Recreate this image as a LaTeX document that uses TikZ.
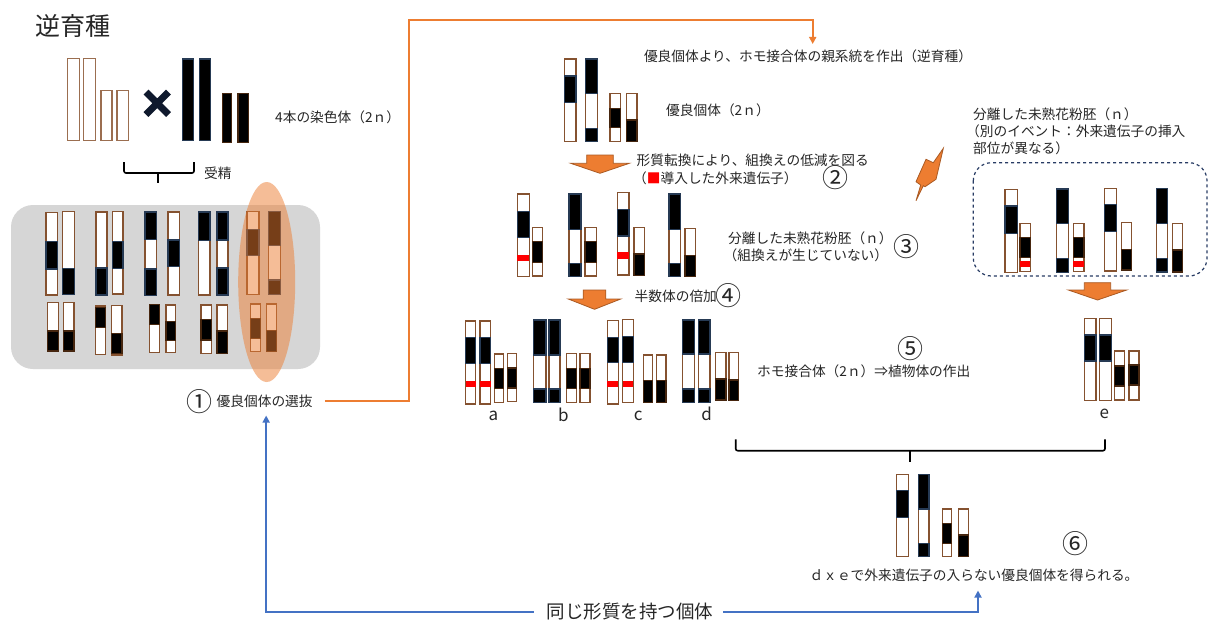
\documentclass[tikz,border=0pt]{standalone}
\usepackage{fontspec}
\setmainfont{Noto Sans CJK JP}
\usetikzlibrary{arrows.meta}

\definecolor{brn}{RGB}{133,82,48}
\definecolor{brnl}{RGB}{155,110,80}
\definecolor{nav}{RGB}{38,58,84}
\definecolor{bdk}{RGB}{70,38,15}
\definecolor{org}{RGB}{237,125,49}
\definecolor{orgd}{RGB}{170,90,35}
\definecolor{blu}{RGB}{68,114,196}
\definecolor{gry}{RGB}{214,214,214}
\definecolor{dsh}{RGB}{40,60,100}
\definecolor{txc}{RGB}{38,38,38}
\definecolor{crossc}{RGB}{15,25,45}

% chromosome frame, black band (navy rim), black band (brown rim), red insert
\newcommand\chrm[4]{\filldraw[fill=white,draw=brn,line width=1.3pt] (#1,#2) rectangle (#3,#4);}
\newcommand\chrl[4]{\filldraw[fill=white,draw=brnl,line width=1.3pt] (#1,#2) rectangle (#3,#4);}
\newcommand\blkn[4]{\filldraw[fill=black,draw=nav,line width=1.3pt] (#1,#2) rectangle (#3,#4);}
\newcommand\blkb[4]{\filldraw[fill=black,draw=bdk,line width=1.3pt] (#1,#2) rectangle (#3,#4);}
\newcommand\redb[4]{\fill[red] (#1,#2) rectangle (#3,#4);}
% downward block arrow: centre x, head half width, shaft half width, top, head start, tip
\newcommand\blockarrow[6]{\filldraw[fill=org,draw=orgd,line width=0.8pt]
  (#1-#3,#4) -- (#1+#3,#4) -- (#1+#3,#5) -- (#1+#2,#5) -- (#1,#6) -- (#1-#2,#5) -- (#1-#3,#5) -- cycle;}

\tikzset{
  txt/.style={font=\fontsize{13.7}{16}\selectfont, text=txc, inner sep=1pt},
  circnum/.style={font=\fontsize{26}{28}\selectfont, text=txc, inner sep=0pt},
  lbl/.style={font=\fontsize{17}{20}\selectfont, text=txc, inner sep=1pt},
  oline/.style={draw=org, line width=1.8pt, -{Triangle[length=7pt,width=7pt]}},
  bline/.style={draw=blu, line width=1.8pt, -{Triangle[length=7pt,width=7pt]}},
  bracec/.style={draw=black, line width=1.6pt, rounded corners=2pt},
}

\begin{document}
\begin{tikzpicture}[x=1pt,y=-1pt]
\useasboundingbox (0,0) rectangle (1209,622);
\fill[white] (0,0) rectangle (1209,622);

% ---------- title and parents ----------
\node[font=\fontsize{25}{28}\selectfont, text=txc, inner sep=0pt] (title) at (73,26) {逆育種};

\chrl{67.7}{58.3}{79.3}{140.7}
\chrl{83.7}{58.3}{95.7}{140.7}
\chrl{101}{90.3}{112}{140.7}
\chrl{117}{90.3}{128.3}{140.7}
\draw[line width=7pt, draw=crossc] (146,92) -- (168.5,114.5) (168.5,92) -- (146,114.5);
\blkn{182.3}{59}{193.3}{140.7}
\blkn{199.3}{59}{210.7}{140.7}
\chrm{222.3}{93.7}{231.7}{142.3}\blkb{222.3}{93.7}{231.7}{142.3}
\chrm{238}{93.7}{248.3}{142.3}\blkb{238}{93.7}{248.3}{142.3}

\node[txt, anchor=west] (chr4) at (274,117) {4本の染色体（2ｎ）};

\draw[bracec] (124,162) -- (124,173) -- (194,173) -- (194,162);
\draw[bracec] (158,173) -- (158,183);
\node[txt, anchor=west] (fert) at (203,173) {受精};

% ---------- F1 population ----------
\fill[gry, rounded corners=22pt] (11,205) rectangle (320,369);

\chrm{46}{212.3}{57.3}{295}\blkn{46}{241.7}{57.3}{269}
\chrm{62.7}{211.3}{74.3}{294.3}\blkn{62.7}{268.3}{74.3}{294.3}
\chrm{96}{212}{107}{295}\blkn{96}{268}{107}{295}
\chrm{112.3}{211.3}{123}{294}\blkn{112.3}{241.7}{123}{268.3}
\chrm{145}{212}{156.7}{295.7}\blkn{145}{212}{156.7}{239.3}\blkn{145}{269}{156.7}{295.7}
\chrm{168}{212}{179.7}{295}\blkn{168}{240}{179.7}{266.7}
\chrm{198.7}{212}{210}{295}\blkn{198.7}{212}{210}{240.7}
\chrm{217}{212}{228}{295}\blkn{217}{212}{228}{240}\blkn{217}{268}{228}{295}
\chrm{247}{211.7}{259}{294.3}\blkn{247}{229.3}{259}{255.7}
\chrm{268.3}{211.7}{280.7}{294.3}\blkn{268.3}{211.7}{280.7}{245.7}\blkn{268.3}{280}{280.7}{294.3}

\chrm{47.7}{302.7}{58.3}{351}\blkb{47.7}{331}{58.3}{351}
\chrm{63.7}{302.7}{74}{351}\blkb{63.7}{331}{74}{351}
\chrm{95.3}{306}{105.7}{354.7}\blkb{95.3}{307.5}{105.7}{327.7}
\chrm{111.3}{305.7}{122}{355}\blkb{111.3}{333.3}{122}{353.3}
\chrm{149.7}{304.3}{159.7}{352.7}\blkb{149.7}{304.3}{159.7}{324.3}
\chrm{166}{305}{175.7}{352.7}\blkb{166}{321.7}{175.7}{340.7}
\chrm{201}{305}{211.3}{353.7}\blkb{201}{319.3}{211.3}{340}
\chrm{217}{305}{227.7}{353.7}\blkb{217}{331}{227.7}{353.7}
\chrm{250.7}{304}{260.3}{351.7}\blkb{250.7}{318.3}{260.3}{338.3}
\chrm{266.7}{304}{276.7}{351.7}\blkb{266.7}{330.7}{276.7}{351.7}

% selected individual highlighted
\fill[org, opacity=0.5] (266.7,282) ellipse [x radius=28.5, y radius=100];

\node[circnum] (n1) at (199,401.5) {①};
\node[txt, anchor=west] (sel) at (215.5,401) {優良個体の選抜};

% ---------- elite individual ----------
\node[txt] (top) at (808,56.7) {優良個体より、ホモ接合体の親系統を作出（逆育種）};

\chrm{564.3}{59}{576}{141.7}\blkn{564.3}{76}{576}{102.3}
\chrm{585.7}{59}{597.3}{141.7}\blkn{585.7}{59}{597.3}{93.3}\blkn{585.7}{128.3}{597.3}{141.7}
\chrm{610}{93.3}{620.7}{141.7}\blkb{610}{108.3}{620.7}{127.3}
\chrm{626.3}{93.3}{637}{141.7}\blkb{626.3}{120}{637}{141.7}
\node[txt, anchor=west] (elite) at (665,110) {優良個体（2ｎ）};

\blockarrow{600}{29.3}{13.3}{155}{163.3}{173.3}
\node[txt, anchor=west] (trans) at (635.5,160.7) {形質転換により、組換えの低減を図る};
\node[txt, anchor=west] (gene) at (632,178.3) {（{\color{red}■}導入した外来遺伝子）};
\node[circnum] (n2) at (835,178) {②};

% ---------- haploid embryos ----------
\chrm{517.3}{194}{529.3}{276.7}\blkn{517.3}{211.7}{529.3}{237.3}\redb{517.3}{254.7}{529.3}{260.7}
\chrm{532.3}{227.7}{542.7}{276}\blkb{532.3}{241.7}{542.7}{262.3}
\chrm{569}{194}{581}{276.7}\blkn{569}{194}{581}{229.3}\blkn{569}{263.3}{581}{276.7}
\chrm{585}{227.7}{596.7}{276}\blkb{585}{241.7}{596.7}{262.3}
\chrm{617.3}{192.3}{629}{275}\blkn{617.3}{209.3}{629}{236}\redb{617.3}{251.7}{629}{259}
\chrm{634}{227.7}{644.3}{275.7}\blkb{634}{254}{644.3}{275.7}
\chrm{669}{194}{680.3}{276.7}\blkn{669}{194}{680.3}{229.3}\blkn{669}{263.3}{680.3}{276.7}
\chrm{685}{228.3}{695.3}{276.7}\blkb{685}{255.3}{695.3}{276.7}

\node[txt, anchor=west] (emb1) at (727,238.3) {分離した未熟花粉胚（ｎ）};
\node[txt, anchor=west] (emb2) at (722.5,255) {（組換えが生じていない）};
\node[circnum] (n3) at (906.7,246.7) {③};

% lightning bolt
\filldraw[fill=org, draw=orgd, line width=0.8pt, line join=miter]
  (943.3,148.3) -- (936,179.3) -- (925,186.7) -- (923.3,185.7) -- (916,200.7)
  -- (920.7,185) -- (916,181.7) -- (926,159.3) -- (933.3,162.7) -- cycle;

% ---------- another event ----------
\node[txt, anchor=west] (ev1) at (972,114) {分離した未熟花粉胚（ｎ）};
\node[txt, anchor=west] (ev2) at (965,131.7) {（別のイベント：外来遺伝子の挿入};
\node[txt, anchor=west] (ev3) at (972,148.3) {部位が異なる）};

\draw[dsh, dashed, line width=1.2pt, rounded corners=18pt] (973.3,162.7) rectangle (1207,276);

\chrm{1005}{189.3}{1017.3}{272.7}\blkn{1005}{206}{1017.3}{233.3}
\chrm{1020}{223.3}{1030.3}{271.7}\blkb{1020}{237.7}{1030.3}{257.7}\redb{1020}{260.7}{1030.3}{267.3}
\chrm{1056.7}{189}{1068.7}{272.3}\blkn{1056.7}{189}{1068.7}{223.3}\blkn{1056.7}{258.3}{1068.7}{272.3}
\chrm{1073.3}{223.3}{1084}{271.7}\blkb{1073.3}{237.7}{1084}{257.7}\redb{1073.3}{261}{1084}{266.7}
\chrm{1104.3}{188.3}{1116.3}{271}\blkn{1104.3}{204.3}{1116.3}{231.7}
\chrm{1121.7}{222.3}{1131.7}{270}\blkb{1121.7}{249.3}{1131.7}{270}
\chrm{1156.7}{188.7}{1167.7}{272}\blkn{1156.7}{188.7}{1167.7}{223.3}\blkn{1156.7}{258.3}{1167.7}{272}
\chrm{1172.7}{223.3}{1182.7}{272}\blkb{1172.7}{250}{1182.7}{272}

\blockarrow{1097.5}{29.2}{13.2}{282.7}{290}{300}

% ---------- doubled haploids ----------
\blockarrow{594.5}{26.2}{11.3}{290}{299}{309.3}
\node[txt, anchor=west] (dbl) at (633.5,296) {半数体の倍加};
\node[circnum] (n4) at (728.7,296) {④};

% a
\chrm{465.7}{321}{475.7}{404}\blkn{465.7}{337.3}{475.7}{363.3}\redb{465.7}{380.7}{475.7}{387.3}
\chrm{480}{321}{490.7}{404}\blkn{480}{337.3}{490.7}{363.3}\redb{480}{380.7}{490.7}{387.3}
\chrm{494.3}{354}{503.3}{402.7}\blkb{494.3}{368.3}{503.3}{388.3}
\chrm{507.7}{353.3}{516.7}{401.7}\blkb{507.7}{368}{516.7}{388}
\node[lbl] (la) at (493.3,416) {a};
% b
\chrm{533.3}{320}{546}{402.7}\blkn{533.3}{320}{546}{355}\blkn{533.3}{389}{546}{402.7}
\chrm{549}{320}{560}{402.7}\blkn{549}{320}{560}{355}\blkn{549}{389}{560}{402.7}
\chrm{566.7}{353.3}{576.7}{402.7}\blkb{566.7}{368.3}{576.7}{388.3}
\chrm{580}{353.3}{590}{402.7}\blkb{580}{368.3}{590}{388.3}
\node[lbl] (lb) at (563.3,415) {b};
% c
\chrm{607.3}{320.7}{618.3}{404}\blkn{607.3}{337.3}{618.3}{362.7}\redb{607.3}{380.7}{618.3}{386.7}
\chrm{622.7}{319.3}{633.3}{402.7}\blkn{622.7}{336.7}{633.3}{362.7}\redb{622.7}{380.7}{633.3}{386.7}
\chrm{643.3}{355}{652.7}{402.7}\blkb{643.3}{380.7}{652.7}{402.7}
\chrm{656.7}{355}{666}{402.7}\blkb{656.7}{380.7}{666}{402.7}
\node[lbl] (lc) at (638.3,416) {c};
% d
\chrm{682.3}{320}{694.3}{402.7}\blkn{682.3}{320}{694.3}{354}\blkn{682.3}{389}{694.3}{402.7}
\chrm{698.3}{320}{710}{402.7}\blkn{698.3}{320}{710}{354}\blkn{698.3}{389}{710}{402.7}
\chrm{715.7}{352.3}{726}{400}\blkb{715.7}{379}{726}{400}
\chrm{729}{352.7}{738.3}{400.7}\blkb{729}{380}{738.3}{400.7}
\node[lbl] (ld) at (706.7,414) {d};
% e
\chrm{1084.3}{318.3}{1096}{400.7}\blkn{1084.3}{335}{1096}{361}
\chrm{1099.3}{318.3}{1111.7}{400.7}\blkn{1099.3}{335}{1111.7}{361}
\chrm{1114.3}{351}{1124.3}{400}\blkb{1114.3}{366}{1124.3}{386}
\chrm{1129}{351}{1139}{400}\blkb{1129}{365}{1139}{385}
\node[lbl] (le) at (1104.3,414) {e};

\node[circnum] (n5) at (910,348.3) {⑤};
\node[txt, anchor=west] (homo) at (756,371.7) {ホモ接合体（2ｎ）⇒植物体の作出};

% ---------- cross d x e ----------
\draw[bracec] (735.7,439.3) -- (735.7,450.7) -- (1105,450.7) -- (1105,439.3);
\draw[bracec] (910,450.7) -- (910,461.7);

\chrm{896.7}{474.3}{908.3}{556.7}\blkn{896.7}{490.7}{908.3}{517.3}
\chrm{918.3}{474.3}{929}{556.7}\blkn{918.3}{474.3}{929}{509}\blkn{918.3}{543.3}{929}{556.7}
\chrm{942.3}{509}{951.7}{556.7}\blkb{942.3}{523.3}{951.7}{543.3}
\chrm{958.7}{509}{968.3}{556.7}\blkb{958.7}{535}{968.3}{556.7}

\node[circnum] (n6) at (1075,543.3) {⑥};
\node[txt] (fin) at (974,575) {ｄｘｅで外来遺伝子の入らない優良個体を得られる。};

\node[font=\fontsize{18.5}{22}\selectfont, text=txc, inner sep=1pt] (same) at (630,612) {同じ形質を持つ個体};

% ---------- connectors ----------
\draw[oline] ([xshift=11pt]sel.east) -| (409.3,20) -| ([xshift=4.7pt,yshift=5pt]top.north);
\draw[bline] ([xshift=-12pt]same.west) -| ([xshift=1.5pt,yshift=-7pt]sel.south);
\draw[bline] ([xshift=9pt]same.east) -| ([xshift=4pt,yshift=-8pt]fin.south);
\end{tikzpicture}
\end{document}
